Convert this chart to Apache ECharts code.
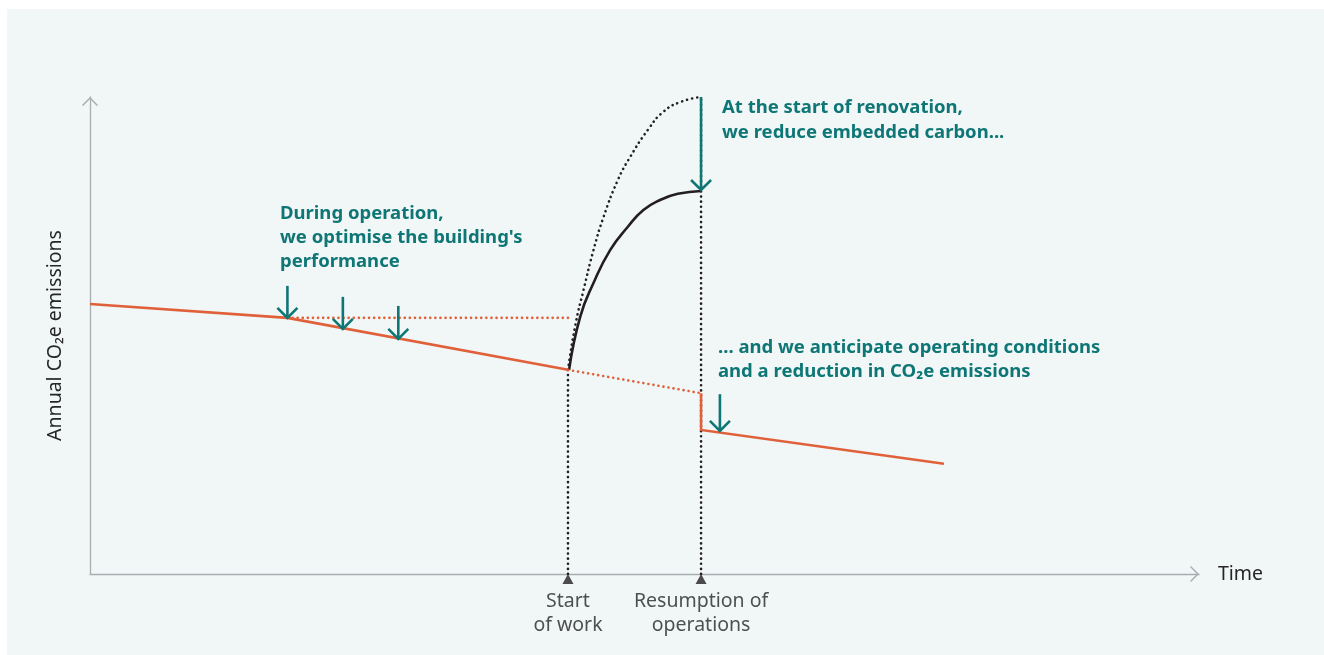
<!DOCTYPE html>
<html>
<head>
<meta charset="utf-8">
<script src="https://cdn.jsdelivr.net/npm/echarts@6/dist/echarts.min.js"></script>
<style>
  html, body { margin: 0; padding: 0; background: #fff; }
  #chart { position: absolute; left: 7px; top: 9px; width: 1317px; height: 646px; }
</style>
</head>
<body>
<div id="chart"></div>
<script>
// abstract units: time 0-100, emissions 0-100
const baseline = [[0, 56.6], [17.8, 53.7], [43.1, 42.8]];
const withoutOptimisation = [[17.8, 53.7], [43.1, 53.7]];
const projectedOperation = [[43.1, 42.8], [55.1, 37.9]];
const afterWorks = [[55.1, 37.9], [55.1, 30.2], [77.0, 23.1]];
const carbonReduced = [[43.2, 42.8], [44.2, 53.9], [45.4, 61.0], [46.9, 67.9], [48.5, 72.8], [49.9, 76.3], [51.4, 78.4], [53.0, 79.7], [55.1, 80.3]];
const carbonInitial = [[43.1, 42.8], [43.8, 52.6], [44.5, 59.5], [45.4, 67.9], [46.3, 74.8], [47.6, 82.6], [48.7, 87.4], [50.3, 93.1], [51.7, 96.9], [53.3, 99.0], [55.1, 100]];
const milestones = [43.1, 55.1];
const milestoneLabels = ['Start\nof work', 'Resumption of\noperations'];
// [x, yFrom, yTo]
const arrows = [[17.8, 60.4, 53.7], [22.8, 58.1, 51.4], [27.8, 56.2, 49.3], [55.1, 100, 80.5], [56.8, 37.7, 30.0]];

const ORANGE = '#e0603a';
const TEAL = '#0f7676';
const DARK = '#231f20';
const TEXT = '#262626';
const FONT = 'Noto Sans';
const NOTE_FONT = 'bold 18.5px "Noto Sans"';

const dots = (color, width) => ({ color: color, width: width, type: [0.1, 5], cap: 'round' });
const chevron = 'path://M0,10 L10,0 L20,10 L18.6,11.2 L10,2.6 L1.4,11.2 Z';
const axisLine = {
  show: true, symbol: ['none', chevron], symbolSize: [16, 9], symbolOffset: [0, -4.5],
  lineStyle: { color: '#a9aeb0', width: 1.3 }
};

let chart = echarts.init(document.getElementById('chart'));

let option = {
  backgroundColor: '#f1f6f7',
  animation: false,
  textStyle: { fontFamily: FONT },
  grid: { left: 83, top: 88, right: 125, bottom: 81 },
  xAxis: {
    type: 'value', min: 0, max: 100,
    name: 'Time', nameLocation: 'end', nameGap: 19,
    nameTextStyle: { color: TEXT, fontSize: 19.5, fontFamily: FONT },
    axisLine: axisLine,
    axisTick: { show: false }, axisLabel: { show: false }, splitLine: { show: false }
  },
  yAxis: {
    type: 'value', min: 0, max: 100,
    name: 'Annual CO₂e emissions', nameLocation: 'middle', nameGap: 25, nameRotate: 90,
    nameTextStyle: { color: TEXT, fontSize: 19.5, fontFamily: FONT },
    axisLine: axisLine,
    axisTick: { show: false }, axisLabel: { show: false }, splitLine: { show: false }
  },
  series: [
    { type: 'line', data: [[milestones[0], 0], [milestones[0], 42.8]], showSymbol: false, lineStyle: dots(DARK, 2.6), z: 1 },
    { type: 'line', data: [[milestones[1], 0], [milestones[1], 100]], showSymbol: false, lineStyle: dots(DARK, 2.6), z: 1 },
    { type: 'line', data: carbonInitial, smooth: 0.5, showSymbol: false, lineStyle: dots(DARK, 2.6), z: 1 },
    { type: 'line', data: carbonReduced, smooth: 0.5, showSymbol: false, lineStyle: { color: DARK, width: 2.6 }, z: 2 },
    { type: 'line', data: withoutOptimisation, showSymbol: false, lineStyle: dots(ORANGE, 2.6), z: 2 },
    { type: 'line', data: projectedOperation, showSymbol: false, lineStyle: dots(ORANGE, 2.6), z: 2 },
    { type: 'line', data: baseline, showSymbol: false, lineStyle: { color: ORANGE, width: 2.6 }, z: 3 },
    { type: 'line', data: afterWorks, showSymbol: false, lineStyle: { color: ORANGE, width: 2.6, join: 'miter' }, z: 3 },
    {
      type: 'custom', data: arrows, z: 5,
      renderItem: function (params, api) {
        let a = api.coord([api.value(0), api.value(1)]);
        let b = api.coord([api.value(0), api.value(2)]);
        let st = { stroke: TEAL, lineWidth: 2.6, fill: null };
        return {
          type: 'group',
          children: [
            { type: 'line', shape: { x1: a[0], y1: a[1], x2: b[0], y2: b[1] }, style: st },
            { type: 'polyline', shape: { points: [[b[0] - 10, b[1] - 10], [b[0], b[1]], [b[0] + 10, b[1] - 10]] }, style: st }
          ]
        };
      }
    },
    {
      type: 'scatter', clip: false, z: 6,
      data: milestones.map((x, i) => ({ value: [x, 0], label: { formatter: milestoneLabels[i] } })),
      symbol: 'triangle', symbolSize: [11, 10], symbolOffset: [0, 5],
      itemStyle: { color: DARK },
      label: { show: true, position: 'bottom', distance: 5, color: TEXT, fontSize: 19.5, lineHeight: 24, align: 'center', fontFamily: FONT }
    }
  ],
  graphic: [
    { type: 'text', left: 273, top: 193, style: { text: "During operation,\nwe optimise the building's\nperformance", fill: TEAL, font: NOTE_FONT, lineHeight: 24 } },
    { type: 'text', left: 715, top: 86, style: { text: 'At the start of renovation,\nwe reduce embedded carbon...', fill: TEAL, font: NOTE_FONT, lineHeight: 25 } },
    { type: 'text', left: 711, top: 327, style: { text: '... and we anticipate operating conditions\nand a reduction in CO₂e emissions', fill: TEAL, font: NOTE_FONT, lineHeight: 24 } }
  ]
};

chart.setOption(option);
</script>
</body>
</html>
